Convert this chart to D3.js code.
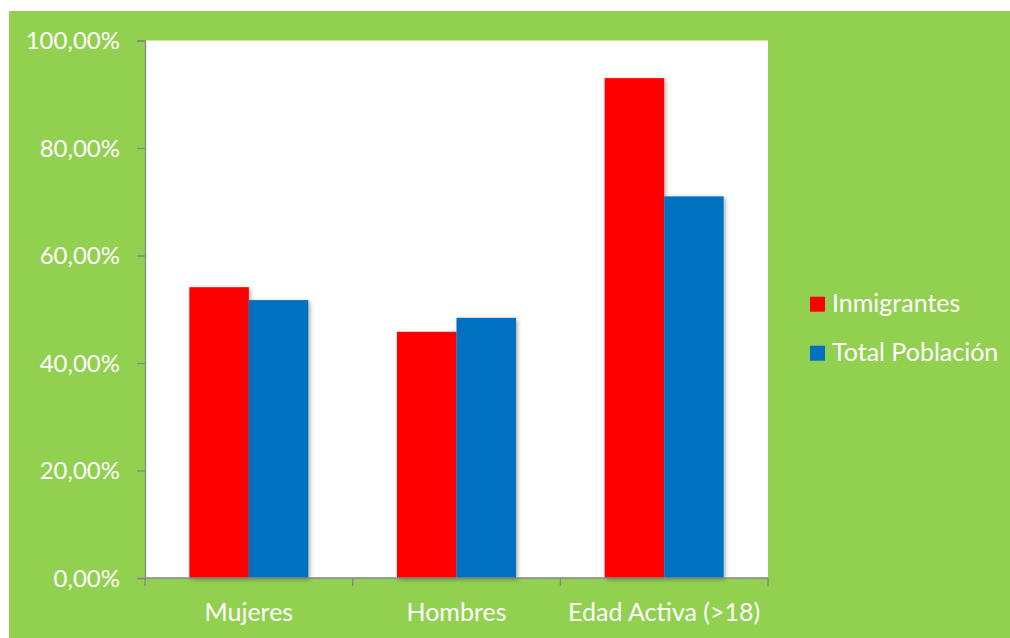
<!DOCTYPE html>
<html>
<head>
<meta charset="utf-8">
<script src="https://cdn.jsdelivr.net/npm/d3@7"></script>
<style>
  html, body { margin: 0; padding: 0; background: #ffffff; }
  svg { display: block; }
  text { font-family: Lato, "Open Sans", "Noto Sans", sans-serif; fill: #ffffff; }
</style>
</head>
<body>
<svg id="chart" width="1010" height="638"></svg>
<script>
const categories = ["Mujeres", "Hombres", "Edad Activa (>18)"];
const seriesNames = ["Inmigrantes", "Total Población"];
const inmigrantes = [54.1, 45.8, 93.0];
const totalPoblacion = [51.7, 48.4, 71.0];
const yTicks = [0, 20, 40, 60, 80, 100];
const colors = ["#ff0000", "#0070c0"];
const FS_Y = 24;
const FS = 25;

const svg = d3.select("#chart");

const defs = svg.append("defs");
const f = defs.append("filter").attr("id", "shadow").attr("x", "-20%").attr("y", "-20%").attr("width", "140%").attr("height", "140%");
f.append("feDropShadow").attr("dx", 1.5).attr("dy", 1.5).attr("stdDeviation", 2).attr("flood-color", "#000").attr("flood-opacity", 0.35);

svg.append("rect").attr("x", 9).attr("y", 11).attr("width", 1001).attr("height", 627).attr("fill", "#92d050");

const plot = { left: 145, right: 768, top: 40.5, bottom: 578 };
svg.append("rect").attr("x", plot.left).attr("y", plot.top)
  .attr("width", plot.right - plot.left).attr("height", plot.bottom - plot.top).attr("fill", "#ffffff");

const x0 = d3.scaleBand().domain(categories).range([plot.left, plot.right]).paddingInner(0.427).paddingOuter(0.2135);
const x1 = d3.scaleBand().domain(seriesNames).range([0, x0.bandwidth()]).padding(0);
const y = d3.scaleLinear().domain([0, 100]).range([plot.bottom, plot.top]);

const data = categories.map((c, i) => ({ cat: c, vals: [inmigrantes[i], totalPoblacion[i]] }));

const groups = svg.append("g").selectAll("g").data(data).join("g")
  .attr("transform", d => `translate(${x0(d.cat)},0)`)
  .attr("filter", "url(#shadow)");
groups.selectAll("rect").data(d => d.vals.map((v, j) => ({ v, s: seriesNames[j], j })))
  .join("rect")
  .attr("x", d => x1(d.s))
  .attr("y", d => y(d.v))
  .attr("width", x1.bandwidth())
  .attr("height", d => plot.bottom - y(d.v))
  .attr("fill", d => colors[d.j]);

const fmt = v => v.toFixed(2).replace(".", ",") + "%";
const yAxis = d3.axisLeft(y).tickValues(yTicks).tickFormat(fmt).tickSize(8).tickPadding(17);
const ya = svg.append("g").attr("transform", `translate(${plot.left},0)`).call(yAxis)
  .attr("font-size", FS_Y).attr("font-family", null);
ya.selectAll("path, line").attr("stroke", "#868686").attr("stroke-width", 1.3);
ya.selectAll("text").attr("font-size", FS_Y).attr("fill", "#ffffff").attr("dy", "0.35em");

const xa = svg.append("g");
xa.append("line").attr("x1", plot.left).attr("x2", plot.right).attr("y1", plot.bottom).attr("y2", plot.bottom)
  .attr("stroke", "#868686").attr("stroke-width", 1.3);
const step = (plot.right - plot.left) / categories.length;
const bounds = d3.range(categories.length + 1).map(i => plot.left + i * step);
xa.selectAll("line.tick").data(bounds).join("line").attr("class", "tick")
  .attr("x1", d => d).attr("x2", d => d).attr("y1", plot.bottom).attr("y2", plot.bottom + 8)
  .attr("stroke", "#868686").attr("stroke-width", 1.3);
xa.selectAll("text").data(categories).join("text")
  .attr("x", d => x0(d) + x0.bandwidth() / 2)
  .attr("y", 621)
  .attr("text-anchor", "middle")
  .attr("font-size", FS)
  .text(d => d);

const legend = svg.append("g");
seriesNames.forEach((s, i) => {
  const yy = 296.7 + i * 49;
  legend.append("rect").attr("x", 810).attr("y", yy).attr("width", 15).attr("height", 15).attr("fill", colors[i]);
  legend.append("text").attr("x", 832).attr("y", yy + 15).attr("font-size", FS).text(s);
});
</script>
</body>
</html>
